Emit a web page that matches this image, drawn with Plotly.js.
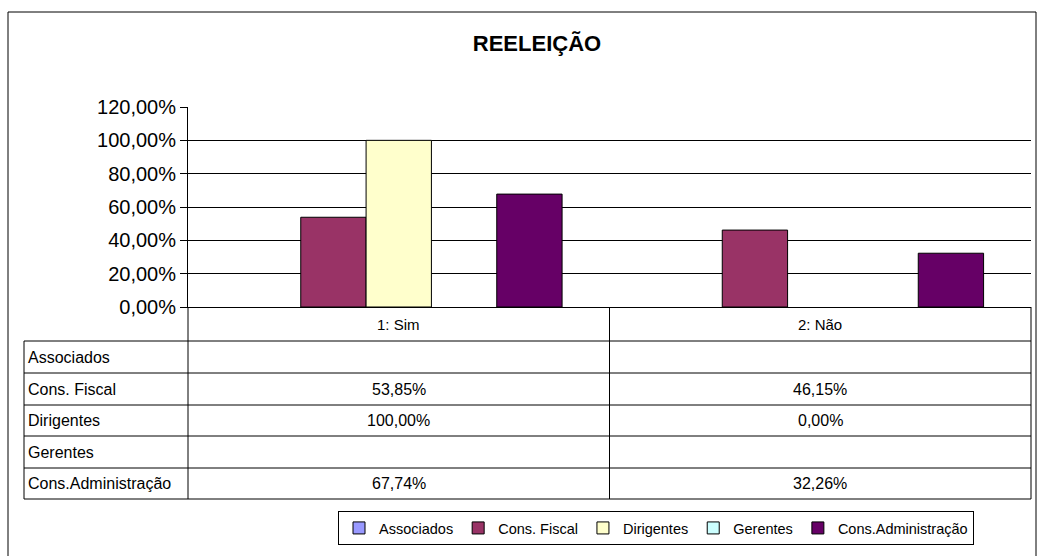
<!DOCTYPE html>
<html>
<head>
<meta charset="utf-8">
<script src="https://cdn.plot.ly/plotly-3.0.1.min.js"></script>
<style>
  html, body { margin: 0; padding: 0; background: #fff; }
  #chart { width: 1039px; height: 556px; }
</style>
</head>
<body>
<div id="chart"></div>
<script>
// ---- data ----
const categories = ['1: Sim', '2: Não'];
const seriesNames = ['Associados', 'Cons. Fiscal', 'Dirigentes', 'Gerentes', 'Cons.Administração'];
const associados = [null, null];
const consFiscal = [0.5385, 0.4615];
const dirigentes = [1.0, 0.0];
const gerentes = [null, null];
const consAdministracao = [0.6774, 0.3226];
const yTickValues = [0, 0.2, 0.4, 0.6, 0.8, 1.0, 1.2];
const chartTitle = 'REELEIÇÃO';

// ---- styles ----
const seriesColors = ['#9999FF', '#993366', '#FFFFCC', '#CCFFFF', '#660066'];
const FONT = 'Liberation Sans, Arial, sans-serif';

// plot-area geometry (pixels)
const W = 1039, H = 556;
const PL = 188, PR = 1031, PT = 107, PB = 307;
const px2x = p => (p - PL) / (PR - PL);
const px2y = p => (PB - p) / (PB - PT);

const seriesValues = [associados, consFiscal, dirigentes, gerentes, consAdministracao];

const traces = seriesNames.map((name, i) => ({
  type: 'bar',
  name: name,
  x: categories,
  y: seriesValues[i],
  marker: {
    color: seriesColors[i],
    // zero-height bars get no outline (as in the reference)
    line: { color: '#000', width: seriesValues[i].map(v => (v === 0 ? 0 : 1)) }
  },
  hoverinfo: 'skip'
}));

function fmt(v) {
  if (v === null || v === undefined) return '';
  return (v * 100).toFixed(2).replace('.', ',') + '%';
}

// table geometry
const tableLeft = 24;
const headerTop = PB, headerBottom = 341;
const rowEdges = [341, 373, 405, 436, 468, 499];
const TABLE_FONT = 16;

const shapes = [];
const line = (x0, y0, x1, y1, color) => shapes.push({
  type: 'line', xref: 'paper', yref: 'paper',
  x0: px2x(x0), y0: px2y(y0), x1: px2x(x1), y1: px2y(y1),
  line: { color: color || '#000', width: 1 }
});

// outer frame
shapes.push({
  type: 'rect', xref: 'paper', yref: 'paper',
  x0: px2x(8), y0: px2y(600), x1: px2x(1036), y1: px2y(12),
  line: { color: '#000', width: 1 }, fillcolor: 'rgba(0,0,0,0)', layer: 'below'
});

// table grid
rowEdges.forEach(y => line(tableLeft, y, PR, y));
line(PL, PB, PL, rowEdges[rowEdges.length - 1]);
line(tableLeft, rowEdges[0], tableLeft, rowEdges[rowEdges.length - 1]);
line(PR, PB, PR, rowEdges[rowEdges.length - 1]);
// category divider at the boundary between categories (x = 0.5 on category axis)
shapes.push({
  type: 'line', xref: 'x', yref: 'paper',
  x0: 0.5, x1: 0.5, y0: px2y(PB), y1: px2y(rowEdges[rowEdges.length - 1]),
  line: { color: '#000', width: 1 }
});

const annotations = [];
// header labels
categories.forEach((c, j) => annotations.push({
  xref: 'x', yref: 'paper', x: j, y: px2y((headerTop + headerBottom) / 2),
  text: c, showarrow: false, xanchor: 'center', yanchor: 'middle',
  font: { family: FONT, size: 15, color: '#000' }
}));
// rows
seriesNames.forEach((name, i) => {
  const yc = px2y((rowEdges[i] + rowEdges[i + 1]) / 2);
  annotations.push({
    xref: 'paper', yref: 'paper', x: px2x(tableLeft + 2), y: yc,
    text: name, showarrow: false, xanchor: 'left', yanchor: 'middle',
    font: { family: FONT, size: TABLE_FONT, color: '#000' }
  });
  categories.forEach((c, j) => {
    const t = fmt(seriesValues[i][j]);
    if (t) annotations.push({
      xref: 'x', yref: 'paper', x: j, y: yc,
      text: t, showarrow: false, xanchor: 'center', yanchor: 'middle',
      font: { family: FONT, size: TABLE_FONT, color: '#000' }
    });
  });
});

const layout = {
  width: W, height: H,
  margin: { l: PL, r: W - PR, t: PT, b: H - PB, pad: 0 },
  paper_bgcolor: '#fff', plot_bgcolor: '#fff',
  separators: ', ',
  font: { family: FONT, color: '#000' },
  title: {
    text: '<b>' + chartTitle + '</b>',
    x: 537 / W, xanchor: 'center', xref: 'container',
    y: 1 - 43 / H, yanchor: 'middle', yref: 'container',
    font: { family: FONT, size: 22, color: '#000' }
  },
  barmode: 'group', bargap: 0.225, bargroupgap: 0,
  showlegend: true,
  legend: {
    orientation: 'h', xref: 'paper', yref: 'paper',
    x: px2x(656), xanchor: 'center', y: px2y(511), yanchor: 'top',
    bordercolor: '#000', borderwidth: 1, bgcolor: '#fff',
    font: { family: FONT, size: 14.5, color: '#000' },
    itemwidth: 30, traceorder: 'normal', itemclick: false
  },
  xaxis: {
    type: 'category', range: [-0.5, 1.5],
    showticklabels: false, ticks: '', showgrid: false, zeroline: false,
    showline: true, linecolor: '#000', linewidth: 1, fixedrange: true
  },
  yaxis: {
    range: [0, 1.2], tickvals: yTickValues, tickformat: '.2%',
    showgrid: true, gridcolor: '#000', gridwidth: 1,
    zeroline: false, showline: true, linecolor: '#000', linewidth: 1,
    ticks: 'outside', ticklen: 7, tickcolor: '#000',
    tickfont: { family: FONT, size: 20, color: '#000' },
    fixedrange: true
  },
  shapes: shapes,
  annotations: annotations
};

Plotly.newPlot('chart', traces, layout, { displayModeBar: false, staticPlot: true });
</script>
</body>
</html>
